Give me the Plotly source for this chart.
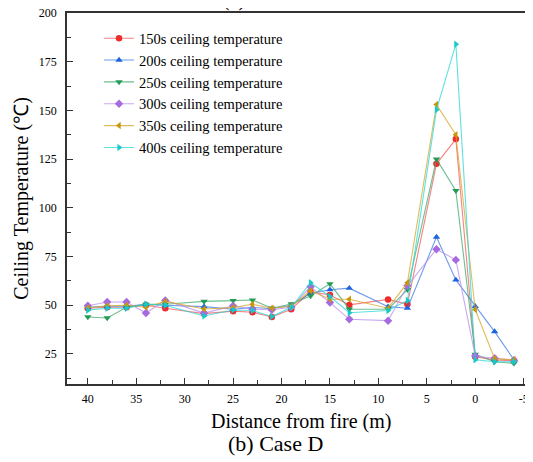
import plotly.graph_objects as go

distance = [40, 38, 36, 34, 32, 28, 25, 23, 21, 19, 17, 15, 13, 9, 7, 4, 2, 0, -2, -4]

t150 = [48.5, 49, 49, 50, 48.5, 45.7, 47, 46.4, 44, 48, 57, 55.3, 50.2, 53, 50.5, 122.6, 135.3, 23.6, 22, 21.5]
t200 = [49, 49.5, 49.5, 50.5, 50, 49.3, 48, 48.9, 48.2, 50, 56.2, 58, 58.8, 49.3, 48.5, 85, 63, 49.5, 36.5, 22]
t250 = [44, 43.5, 49, 50.5, 50.5, 52, 52.4, 52.7, 48.5, 50.7, 54.8, 61, 48, 48, 58, 125, 108.8, 24.8, 21, 20.2]
t300 = [49.8, 51.7, 51.7, 46, 52.5, 46, 49.7, 48, 47.7, 49, 59.5, 51.4, 42.8, 42.1, 60, 78.8, 73.3, 24, 22.8, 21.8]
t350 = [48.7, 49.7, 50, 49, 52, 48.1, 48.8, 50.5, 48.5, 49.5, 57.5, 53.1, 53.1, 48.5, 61.6, 153, 137.5, 47.8, 22.6, 22]
t400 = [47.5, 48.5, 48.5, 50.5, 50, 44.5, 47.6, 47.3, 44.2, 49, 61.6, 54.5, 46.2, 47.3, 52.5, 150.3, 184, 22, 21, 21]

series_names = ["150s ceiling temperature", "200s ceiling temperature", "250s ceiling temperature",
                "300s ceiling temperature", "350s ceiling temperature", "400s ceiling temperature"]
series_values = [t150, t200, t250, t300, t350, t400]

x_ticks = [40, 35, 30, 25, 20, 15, 10, 5, 0, -5]
x_tick_labels = ["40", "35", "30", "25", "20", "15", "10", "5", "0", "-5"]
y_ticks = [25, 50, 75, 100, 125, 150, 175, 200]

marker_colors = ["#EE2C2C", "#1E64E0", "#239B56", "#A66BE0", "#C8960A", "#18C8C8"]
line_colors = ["rgba(240,90,90,0.75)", "rgba(60,120,230,0.75)", "rgba(60,170,110,0.75)",
               "rgba(185,140,235,0.75)", "rgba(215,165,40,0.75)", "rgba(40,215,215,0.75)"]
symbols = ["circle", "triangle-up", "triangle-down", "diamond", "triangle-left", "triangle-right"]

serif = "Liberation Serif, Times New Roman, serif"

fig = go.Figure()
for name, vals, mc, lc, sym in zip(series_names, series_values, marker_colors, line_colors, symbols):
    fig.add_trace(go.Scatter(
        x=distance, y=vals, name=name, mode="lines+markers",
        line=dict(color=lc, width=1.1),
        marker=dict(color=mc, symbol=sym, size=6.5, line=dict(width=0)),
    ))

fig.update_layout(
    width=525, height=454,
    margin=dict(l=59, r=5, t=5.3, b=78, autoexpand=False),
    paper_bgcolor="white", plot_bgcolor="white",
    font=dict(family=serif, color="black"),
    showlegend=True,
    legend=dict(x=0.0695, y=0.975, xanchor="left", yanchor="top",
                bgcolor="rgba(0,0,0,0)", font=dict(size=14.5, family=serif),
                tracegroupgap=0),
    xaxis=dict(range=[42.15, -5.45], tickvals=x_ticks, ticktext=x_tick_labels,
               ticks="inside", ticklen=6,
               tickcolor="#333", showline=True, linecolor="#333", linewidth=1.5,
               mirror=True, showgrid=False, zeroline=False, ticklabelstandoff=3,
               ticklabeloverflow="allow",
               tickfont=dict(size=12, family=serif),
               minor=dict(dtick=2.5, ticks="inside", ticklen=4, tickcolor="#333", showgrid=False)),
    yaxis=dict(range=[9.6, 200], tickvals=y_ticks, ticks="inside", ticklen=6,
               tickcolor="#333", showline=True, linecolor="#333", linewidth=1.5,
               mirror=True, showgrid=False, zeroline=False, ticklabelstandoff=6,
               ticklabeloverflow="allow",
               tickfont=dict(size=12, family=serif),
               title=dict(text="Ceiling Temperature (℃)", font=dict(size=20, family=serif), standoff=5),
               minor=dict(dtick=12.5, ticks="inside", ticklen=4, tickcolor="#333", showgrid=False)),
)

fig.add_annotation(text="Distance from fire (m)", x=(301 - 67) / 461, y=-(421 - 384) / 371,
                   xref="paper", yref="paper", showarrow=False, xanchor="center", yanchor="middle",
                   font=dict(size=20, family=serif))
fig.add_annotation(text="(b) Case D", x=(275 - 67) / 461, y=-(443 - 384) / 371,
                   xref="paper", yref="paper", showarrow=False, xanchor="center", yanchor="middle",
                   font=dict(size=22, family=serif))
fig.add_annotation(text="(a)", x=(234 - 67) / 461, y=1.0,
                   xref="paper", yref="paper", showarrow=False, xanchor="center", yanchor="bottom",
                   font=dict(size=20, family=serif))

fig.write_html("out.html")
